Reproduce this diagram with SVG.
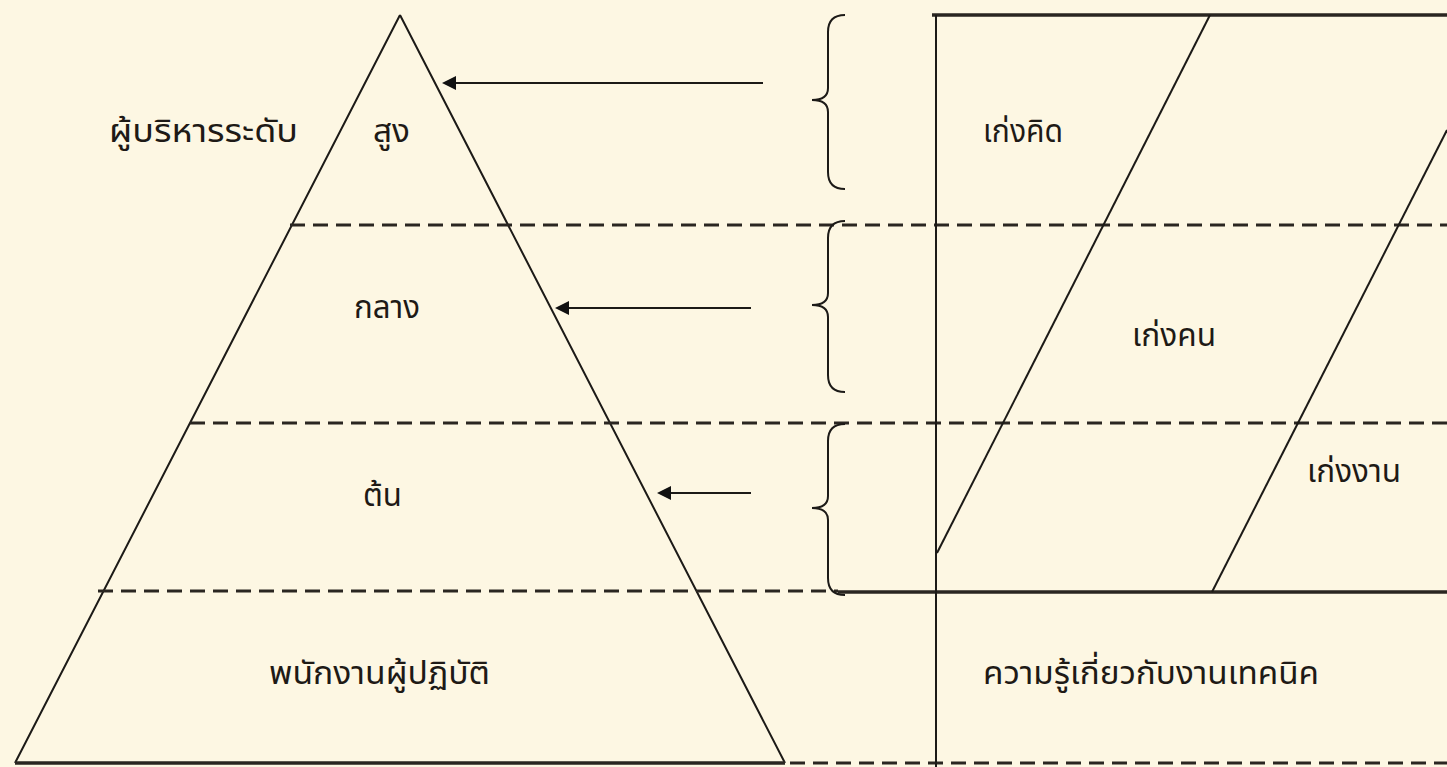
<svg xmlns="http://www.w3.org/2000/svg" width="1447" height="767" viewBox="0 0 1447 767">
<defs>
<style>
.bg{fill:#FDF7E3}
.ln{stroke:#1c1a17;stroke-width:2;fill:none}
.thick{stroke:#2a2621;stroke-width:3.5;fill:none}
.dash{stroke:#2a2621;stroke-width:3;fill:none;stroke-dasharray:15 8}
.br{stroke:#1c1a17;stroke-width:2;fill:none}
.t{font-family:"Noto Sans Thai","Noto Sans","DejaVu Sans",sans-serif;font-size:32px;fill:#1e1a16}
</style>
<marker id="ah" viewBox="0 0 10 10" refX="0" refY="5" markerWidth="20" markerHeight="14" markerUnits="userSpaceOnUse" orient="auto-start-reverse">
<path d="M0,0 L10,5 L0,10 z" fill="#111"/>
</marker>
</defs>
<rect class="bg" x="0" y="0" width="1447" height="767"/>

<g id="pyramid">
<path class="ln" d="M400,15 L15,763 M400,15 L785,763"/>
<line class="thick" x1="15" y1="763" x2="785" y2="763"/>
</g>

<g id="levels">
<line class="dash" x1="290" y1="225" x2="1447" y2="225"/>
<line class="dash" x1="190" y1="423" x2="1447" y2="423"/>
<line class="dash" x1="98" y1="591" x2="838" y2="591"/>
<line class="thick" x1="838" y1="592" x2="1447" y2="592"/>
<line class="dash" x1="790" y1="763" x2="1447" y2="763"/>
</g>

<g id="grid">
<line class="thick" x1="932" y1="15" x2="1447" y2="15"/>
<line class="ln" x1="936" y1="15" x2="936" y2="767"/>
<line class="ln" x1="1210" y1="15" x2="937" y2="553"/>
<line class="ln" x1="1447" y1="130" x2="1212" y2="592"/>
</g>

<g id="braces">
<path class="br" d="M845,15 Q828,15 828,32 L828,88 Q828,100 812,100 Q828,100 828,112 L828,172 Q828,189 845,189"/>
<path class="br" d="M845,221 Q828,221 828,238 L828,293 Q828,305 812,305 Q828,305 828,317 L828,375 Q828,392 845,392"/>
<path class="br" d="M845,424 Q828,424 828,441 L828,496 Q828,508 812,508 Q828,508 828,520 L828,578 Q828,595 845,595"/>
</g>

<g id="connectors">
<line class="ln" x1="763" y1="83" x2="456" y2="83" marker-end="url(#ah)"/>
<line class="ln" x1="751" y1="308" x2="569" y2="308" marker-end="url(#ah)"/>
<line class="ln" x1="751" y1="493" x2="671" y2="493" marker-end="url(#ah)"/>
</g>

<g id="labels">
<text class="t" x="109" y="142" textLength="189" lengthAdjust="spacingAndGlyphs">ผู้บริหารระดับ</text>
<text class="t" x="373" y="142" textLength="37" lengthAdjust="spacingAndGlyphs">สูง</text>
<text class="t" x="354" y="318" textLength="66" lengthAdjust="spacingAndGlyphs">กลาง</text>
<text class="t" x="363" y="506" textLength="39" lengthAdjust="spacingAndGlyphs">ต้น</text>
<text class="t" x="269" y="684" textLength="221" lengthAdjust="spacingAndGlyphs">พนักงานผู้ปฏิบัติ</text>
<text class="t" x="983" y="142" textLength="80" lengthAdjust="spacingAndGlyphs">เก่งคิด</text>
<text class="t" x="1132" y="346" textLength="84" lengthAdjust="spacingAndGlyphs">เก่งคน</text>
<text class="t" x="1307" y="482" textLength="94" lengthAdjust="spacingAndGlyphs">เก่งงาน</text>
<text class="t" x="983" y="684" textLength="336" lengthAdjust="spacingAndGlyphs">ความรู้เกี่ยวกับงานเทคนิค</text>
</g>
</svg>
